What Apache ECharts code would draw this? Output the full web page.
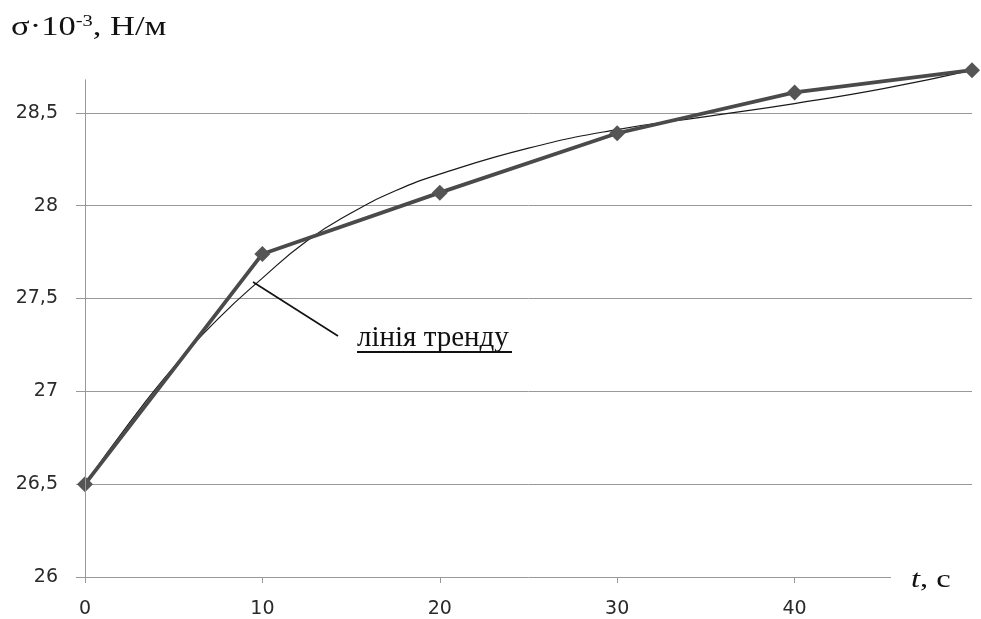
<!DOCTYPE html>
<html>
<head>
<meta charset="utf-8">
<script src="https://cdn.jsdelivr.net/npm/echarts@6/dist/echarts.min.js"></script>
<style>html,body{margin:0;padding:0;background:#fff}#c{width:981px;height:619px}</style>
</head>
<body>
<div id="c"></div>
<script>
// measured data
var times = [0, 10, 20, 30, 40, 50];
var sigma = [26.5, 27.74, 28.07, 28.39, 28.61, 28.73];
// trend line
var trendT = [0, 2.5, 5, 7.5, 10, 12.5, 15, 17.5, 20, 25, 30, 35, 40, 45, 50];
var trendV = [26.5, 26.83, 27.13, 27.39, 27.61, 27.81, 27.96, 28.08, 28.17, 28.31, 28.41, 28.48, 28.55, 28.63, 28.73];
var xTicks = [0, 10, 20, 30, 40];
var yTicks = [26, 26.5, 27, 27.5, 28, 28.5];

var chart = echarts.init(document.getElementById('c'));
var labelFont = '"DejaVu Sans", sans-serif';
var serif = '"Liberation Serif", "Times New Roman", serif';
chart.setOption({
  animation: false,
  grid: {left: 85, right: 9, top: 20, bottom: 39},
  xAxis: {
    type: 'value', min: 0, max: 50, interval: 10,
    axisLine: {show: false},
    axisTick: {show: true, length: 6, lineStyle: {color: '#999'}, customValues: xTicks},
    axisLabel: {customValues: xTicks, margin: 23, fontSize: 19, color: '#2a2a2a', fontFamily: labelFont},
    splitLine: {show: false}
  },
  yAxis: {
    type: 'value', min: 26, max: 29, interval: 0.5,
    axisLine: {show: false},
    axisTick: {show: true, length: 9, lineStyle: {color: '#999'}, customValues: yTicks},
    axisLabel: {customValues: yTicks, margin: 27, fontSize: 19, color: '#2a2a2a', fontFamily: labelFont,
      formatter: function (v) { return String(v).replace('.', ','); }},
    splitLine: {show: true, lineStyle: {color: '#999', width: 1}}
  },
  series: [
    {
      type: 'line', name: 'trend', data: trendT.map(function (t, i) { return [t, trendV[i]]; }),
      smooth: true, showSymbol: false, symbol: 'none',
      lineStyle: {color: '#1a1a1a', width: 1.2}, z: 3
    },
    {
      type: 'line', name: 'sigma', data: times.map(function (t, i) { return [t, sigma[i]]; }),
      symbol: 'diamond', symbolSize: 16,
      itemStyle: {color: '#555555'},
      lineStyle: {color: '#4a4a4a', width: 3.8}, z: 4,
      markLine: {
        silent: true, symbol: 'none', label: {show: false},
        lineStyle: {color: '#999', width: 1, type: 'solid'},
        data: [[{coord: [0, 26]}, {coord: [0, 28.68]}]]
      }
    }
  ],
  graphic: [
    {type: 'rect', z: 100, shape: {x: 0, y: 0, width: 226, height: 45}, style: {fill: '#fff'}},
    {type: 'rect', z: 100, shape: {x: 891, y: 574, width: 90, height: 12}, style: {fill: '#fff'}},
    {type: 'text', z: 101, x: 11, y: 14, scaleX: 1.28,
      style: {
        text: '{a|σ·10}{s|-3}{a|, Н/м}',
        rich: {
          a: {fontFamily: serif, fontSize: 27, fill: '#111'},
          s: {fontFamily: serif, fontSize: 16, fill: '#111', verticalAlign: 'top', padding: [0, 0, 12, 0]}
        }
      }},
    {type: 'text', z: 101, x: 911, y: 567, scaleX: 1.25,
      style: {
        text: '{i|t}{a|, с}',
        rich: {
          i: {fontFamily: serif, fontSize: 26, fontStyle: 'italic', fill: '#111'},
          a: {fontFamily: serif, fontSize: 26, fill: '#111'}
        }
      }},
    {type: 'line', z: 101, shape: {x1: 253, y1: 282, x2: 338, y2: 336}, style: {stroke: '#111', lineWidth: 1.6}},
    {type: 'text', z: 101, x: 357, y: 324,
      style: {text: 'лінія тренду', fontFamily: serif, fontSize: 29, fill: '#111'}},
    {type: 'line', z: 101, shape: {x1: 357, y1: 352, x2: 512, y2: 352}, style: {stroke: '#111', lineWidth: 2}}
  ]
});
</script>
</body>
</html>
